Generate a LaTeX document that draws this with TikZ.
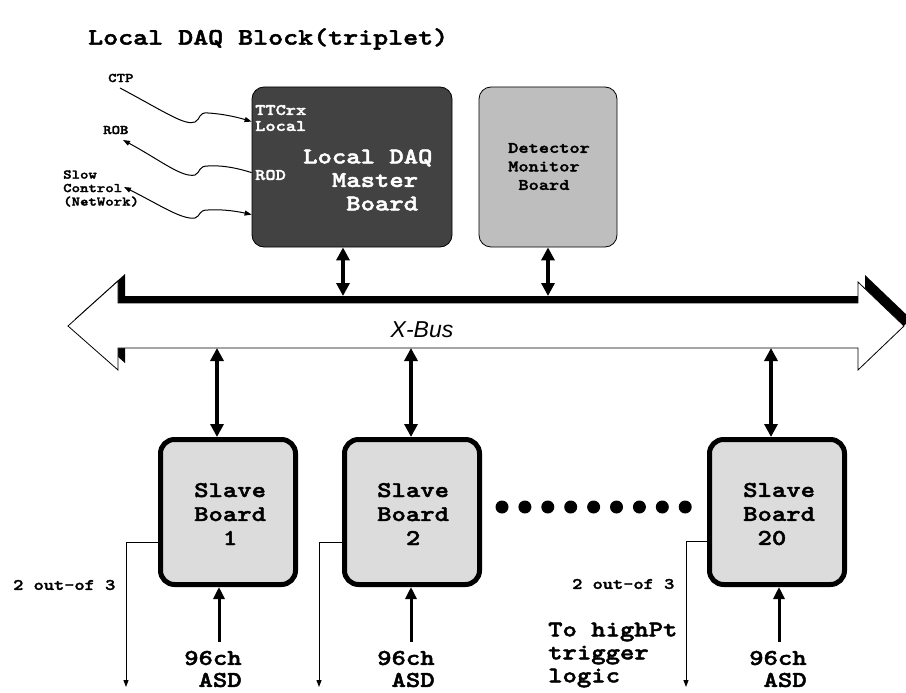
\documentclass[tikz,border=0pt]{standalone}
\usepackage{fontspec}
\newfontfamily\cour{lmmonolt10-bold}[Extension=.otf, FakeStretch=1.216, FakeBold=2]
\setsansfont{Liberation Sans}
\usetikzlibrary{arrows.meta,calc}
\definecolor{masterfill}{RGB}{66,66,66}
\definecolor{detfill}{RGB}{190,190,190}
\definecolor{slavefill}{RGB}{220,220,220}
\newcommand{\myfs}[2]{\fontsize{#1}{#2}\selectfont}
\tikzset{
  lbl/.style={inner sep=0pt, anchor=west, align=left, font=\cour},
  masterbox/.style={draw=black, line width=0.8pt, fill=masterfill, rounded corners=12pt, minimum width=200pt, minimum height=160pt, inner sep=0pt},
  detbox/.style={draw=black, line width=0.8pt, fill=detfill, rounded corners=12pt, minimum width=138pt, minimum height=160pt, inner sep=0pt},
  slavebox/.style={draw=black, line width=5pt, fill=slavefill, rounded corners=14pt, minimum width=135pt, minimum height=145pt, inner sep=0pt},
  bigarrow/.style={line width=4pt, {Triangle[width=13pt,length=13pt]}-{Triangle[width=13pt,length=13pt]}},
  uparrow/.style={line width=3pt, -{Triangle[width=11pt,length=12pt]}},
  thinarrow/.style={line width=1pt, -{Triangle[width=5pt,length=7pt]}},
  thindouble/.style={line width=1pt, {Triangle[width=5pt,length=7pt]}-{Triangle[width=5pt,length=7pt]}},
}
\begin{document}
\begin{tikzpicture}[x=1pt,y=-1pt]
\useasboundingbox (0,0) rectangle (906,693);
\fill[white] (0,0) rectangle (906,693);

% title
\node[lbl, font=\cour\myfs{23.5}{23.5}] (title) at (88,39) {Local DAQ Block(triplet)};

% boards
\node[masterbox] (master) at (352,167) {};
\node[detbox] (det) at (548,167) {};
\node[lbl, text=white, font=\cour\myfs{22.5}{23.5}] (mtext) at (303,180) {Local DAQ\\\phantom{xx}Master\\\phantom{xxx}Board};
\node[lbl, text=white, font=\cour\myfs{16}{16}] (ttc) at (255,118) {TTCrx\\Local};
\node[lbl, text=white, font=\cour\myfs{16}{16}] (rod) at (255,175) {ROD};
\node[lbl, font=\cour\myfs{16}{18.5}] (dtext) at (508,166.5) {Detector\\Monitor\\\phantom{x}Board};

% left labels
\node[lbl, font=\cour\myfs{13.2}{13.5}] (ctp) at (108,78) {CTP};
\node[lbl, font=\cour\myfs{13.2}{13.5}] (rob) at (103,130) {ROB};
\node[lbl, font=\cour\myfs{13.2}{13.5}] (slow) at (63,188.5) {Slow\\Control\\(NetWork)};

\coordinate (ctpend) at (120,88);
\coordinate (robend) at (123,140);
\coordinate (slowend) at (124,187);
\coordinate (inA) at ($(master.north west)+(0,35)$);
\coordinate (inB) at ($(master.north west)+(0,86)$);
\coordinate (inC) at ($(master.north west)+(0,128)$);

\draw[thinarrow] (ctpend) .. controls (165,112) and (185,126) .. (195,122) .. controls (201,119) and (198,112) .. (208,113) .. controls (225,114) and (240,118) .. (inA);
\draw[thinarrow] (inB) .. controls (240,169) and (225,165) .. (208,166) .. controls (198,166) and (201,172) .. (195,175) .. controls (182,178) and (160,160) .. (robend);
\draw[thindouble] (inC) .. controls (240,212) and (225,209) .. (208,210) .. controls (198,210) and (201,216) .. (195,218) .. controls (182,220) and (160,205) .. (slowend);

% X-Bus
\begin{scope}[shift={(7,-7)}]
\fill[black] (68,326) -- (118,281) -- (118,303) -- (858,303) -- (858,282) -- (904,326) -- (858,370) -- (858,348) -- (118,348) -- (118,370) -- cycle;
\end{scope}
\filldraw[fill=white, draw=black, line width=0.8pt, line join=miter] (68,326) -- (118,281) -- (118,303) -- (858,303) -- (858,282) -- (904,326) -- (858,370) -- (858,348) -- (118,348) -- (118,370) -- cycle;
\coordinate (bustop) at (0,296);
\coordinate (busbot) at (0,348);
\node[inner sep=0pt, font=\sffamily\itshape\myfs{23}{23}] (xbus) at (422,330) {X-Bus};

% master/detector to bus
\draw[bigarrow] ([xshift=-9pt]master.south) -- ([xshift=-9pt]master.south |- bustop);
\draw[bigarrow] (det.south) -- (det.south |- bustop);

% slaves
\node[slavebox] (s1) at (228,512) {};
\node[slavebox] (s2) at (412,512) {};
\node[slavebox] (s20) at (777,512) {};
\node[lbl, font=\cour\myfs{22.5}{24}] (s1t) at (194,514) {Slave\\Board\\\phantom{xx}1};
\node[lbl, font=\cour\myfs{22.5}{24}] (s2t) at (377,514) {Slave\\Board\\\phantom{xx}2};
\node[lbl, font=\cour\myfs{22.5}{24}] (s20t) at (743,514) {Slave\\Board\\\phantom{x}20};

\draw[bigarrow] ([xshift=-11pt]s1.north |- busbot) -- ([xshift=-11pt]s1.north);
\draw[bigarrow] ([xshift=-1pt]s2.north |- busbot) -- ([xshift=-1pt]s2.north);
\draw[bigarrow] ([xshift=-6pt]s20.north |- busbot) -- ([xshift=-6pt]s20.north);

% dots
\foreach \i in {0,...,8} \fill (502+22.9*\i,507) circle (6.5);

% ASD inputs
\node[lbl, font=\cour\myfs{22.5}{22}] (asd1) at (184,669) {96ch\\\phantom{x}ASD};
\node[lbl, font=\cour\myfs{22.5}{22}] (asd2) at (377,669) {96ch\\\phantom{x}ASD};
\node[lbl, font=\cour\myfs{22.5}{22}] (asd20) at (749,669) {96ch\\\phantom{x}ASD};
\coordinate (asdtop) at (0,642);
\draw[uparrow] ([xshift=-9pt]s1.south |- asdtop) -- ([xshift=-9pt]s1.south);
\draw[uparrow] ([xshift=-1pt]s2.south |- asdtop) -- ([xshift=-1pt]s2.south);
\draw[uparrow] ([xshift=2pt]s20.south |- asdtop) -- ([xshift=2pt]s20.south);

% 2 out-of 3 outputs
\coordinate (o1) at (126,687);
\coordinate (o2) at (319,687);
\coordinate (o20) at (686,687);
\draw[thinarrow] ($(s1.west)+(0,30)$) -| (o1);
\draw[thinarrow] ($(s2.west)+(0,30)$) -| (o2);
\draw[thinarrow] ($(s20.west)+(0,29)$) -| (o20);
\node[lbl, font=\cour\myfs{16}{17}] (two1) at (13,585) {2 out-of 3};
\node[lbl, font=\cour\myfs{16}{17}] (two20) at (572,584) {2 out-of 3};
\node[lbl, font=\cour\myfs{22.5}{23}] (high) at (548,655) {To highPt\\trigger\\logic};
\end{tikzpicture}
\end{document}
